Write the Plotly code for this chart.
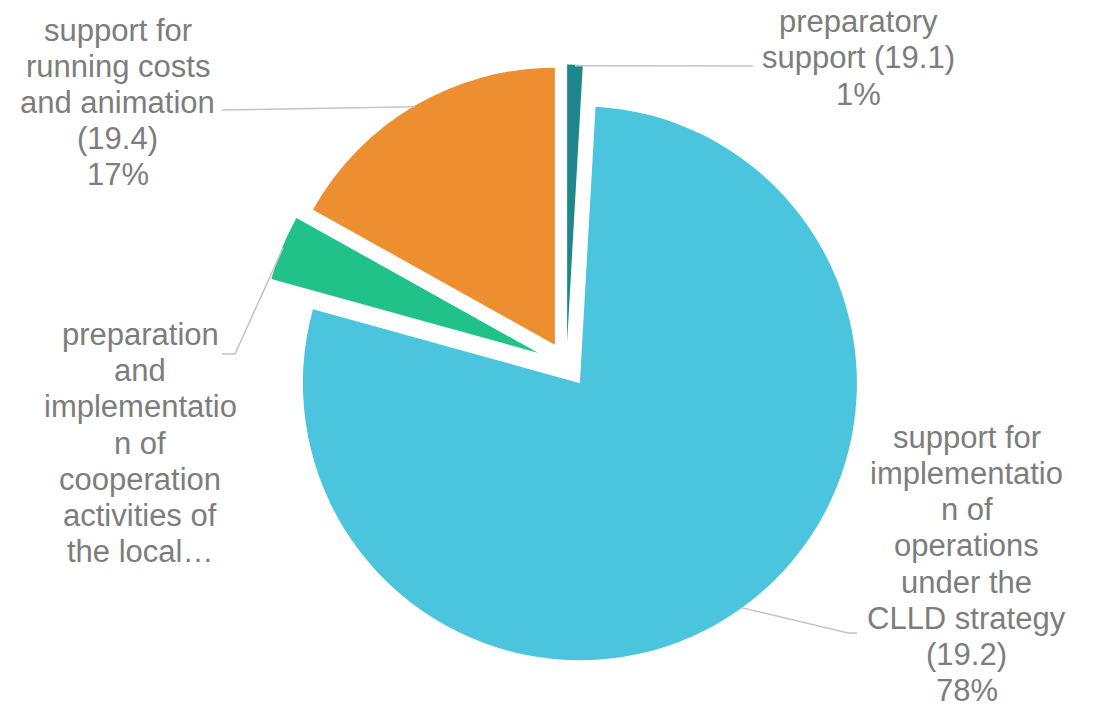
import math
import plotly.graph_objects as go

# Measure 19 sub-measures and their share of the allocation (%)
categories = [
    "preparatory support (19.1)",
    "support for implementation of operations under the CLLD strategy (19.2)",
    "preparation and implementation of cooperation activities of the local action group (19.3)",
    "support for running costs and animation (19.4)",
]
shares = [0.9, 78.4, 3.8, 16.9]

# Wrapped label text as it is printed beside each slice
label_lines = [
    ["preparatory", "support (19.1)"],
    ["support for", "implementatio", "n of", "operations", "under the",
     "CLLD strategy", "(19.2)"],
    ["preparation", "and", "implementatio", "n of", "cooperation",
     "activities of", "the local…"],
    ["support for", "running costs", "and animation", "(19.4)"],
]
show_percent = [True, True, False, True]

colors = ["#1E878B", "#4BC4DD", "#20C28A", "#ED8E31"]
pulls = [0.083, 0.083, 0.11, 0.083]

# ---- layout geometry (pixels) ----
W, H = 1096, 711
CX, CY = 566.5, 364.5          # pie centre
R = 277                        # pie radius
half = R * (1 + max(pulls))    # plotly shrinks the radius to fit the largest pull

label_centers = [(858, 58), (966.5, 564), (140, 443), (118, 102.5)]
leader_points = [
    [(753, 66)],
    [(848, 633), (857, 633)],
    [(235, 354), (222, 354)],
    [(222, 110)],
]
LINE_STEP = 36.2
FONT = dict(family="Liberation Sans, Arial, sans-serif", size=31, color="#7d7d7d")
LEADER_COLOR = "#c4c4c4"


def px(x):
    return x / W


def py(y):
    return 1 - y / H


total = sum(shares)

fig = go.Figure(
    go.Pie(
        labels=categories,
        values=shares,
        sort=False,
        direction="clockwise",
        rotation=0,
        pull=pulls,
        marker=dict(colors=colors, line=dict(width=0)),
        textinfo="none",
        hoverinfo="label+percent",
        showlegend=False,
        domain=dict(
            x=[px(CX - half), px(CX + half)],
            y=[py(CY + half), py(CY - half)],
        ),
    )
)

annotations = []
shapes = []
cum = 0.0
for i, v in enumerate(shares):
    # mid angle of the slice, clockwise from 12 o'clock
    mid = (cum + v / 2) / total * 2 * math.pi
    cum += v
    reach = R * (1 + pulls[i]) - 1
    sx = CX + reach * math.sin(mid)
    sy = CY - reach * math.cos(mid)

    pts = [(sx, sy)] + leader_points[i]
    path = "M " + " L ".join(f"{px(x):.5f},{py(y):.5f}" for x, y in pts)
    shapes.append(dict(type="path", xref="paper", yref="paper", path=path,
                       line=dict(color=LEADER_COLOR, width=1.5)))

    lines = list(label_lines[i])
    if show_percent[i]:
        lines.append(f"{round(v / total * 100)}%")
    lx, ly = label_centers[i]
    n = len(lines)
    for k, t in enumerate(lines):
        yk = ly + (k - (n - 1) / 2) * LINE_STEP
        annotations.append(dict(
            x=px(lx), y=py(yk), xref="paper", yref="paper",
            text=t, showarrow=False, xanchor="center", yanchor="middle",
            font=FONT,
        ))

fig.update_layout(
    width=W, height=H,
    margin=dict(l=0, r=0, t=0, b=0, pad=0),
    paper_bgcolor="white",
    plot_bgcolor="white",
    annotations=annotations,
    shapes=shapes,
)

fig.write_html("out.html")
